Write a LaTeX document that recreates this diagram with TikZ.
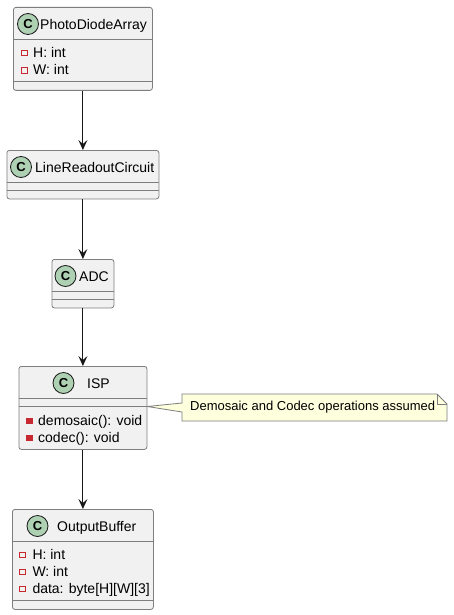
\documentclass[tikz,border=0pt]{standalone}
\usepackage{fontspec}
\setmainfont{Liberation Sans}
\usetikzlibrary{arrows.meta}
\definecolor{classbg}{HTML}{F1F1F1}
\definecolor{lineclr}{HTML}{181818}
\definecolor{boxline}{HTML}{7E7E7E}
\definecolor{circbg}{HTML}{ADD1B2}
\definecolor{privred}{HTML}{C82930}
\definecolor{notebg}{HTML}{FEFFDD}
\begin{document}
\begin{tikzpicture}[x=1pt,y=-1pt,
 classbox/.style={draw=boxline, fill=classbg, line width=0.8pt, rounded corners=2.5pt, rectangle, inner sep=0pt, anchor=north west},
 sepline/.style={draw=boxline, line width=0.8pt},
 circ/.style={circle, draw=lineclr, line width=0.8pt, fill=circbg, minimum size=21pt, inner sep=0pt, font=\fontsize{13}{13}\selectfont\bfseries},
 cname/.style={anchor=base west, inner sep=0pt, font=\fontsize{14}{16}\selectfont},
 member/.style={anchor=base west, inner sep=0pt, font=\fontsize{14}{16}\selectfont},
 fieldmark/.style={rectangle, draw=privred, line width=0.8pt, minimum size=5.5pt, inner sep=0pt},
 methmark/.style={rectangle, fill=privred, draw=privred, line width=0.5pt, minimum size=5.5pt, inner sep=0pt},
 arr/.style={draw=lineclr, line width=1pt, -{Stealth[length=10pt, width=9pt, inset=4pt]}},
 notetext/.style={anchor=west, inner sep=0pt, font=\fontsize{13}{15}\selectfont},
 noteshape/.style={draw=boxline, fill=notebg, line width=0.8pt, line join=miter},
]
\useasboundingbox (0,0) rectangle (454,615);
\fill[white] (0,0) rectangle (454,615);

% PhotoDiodeArray
\node[classbox, minimum width=139pt, minimum height=83pt] (pda) at (13,7) {};
\draw[sepline] (13,39.5) -- (152,39.5);
\draw[sepline] (13,81) -- (152,81);
\node[circ] (pdac) at (28,24) {C};
\node[cname] (pdan) at (40,29.5) {PhotoDiodeArray};
\node[fieldmark] (pdam1) at (24.5,53) {};
\node[member] (pdaf1) at (33,57.5) {H: int};
\node[fieldmark] (pdam2) at (24.5,70.5) {};
\node[member] (pdaf2) at (33,74.5) {W: int};

% LineReadoutCircuit
\node[classbox, minimum width=152pt, minimum height=48.5pt] (lrc) at (6.5,150) {};
\draw[sepline] (6.5,182.5) -- (158.5,182.5);
\draw[sepline] (6.5,190.5) -- (158.5,190.5);
\node[circ] (lrcc) at (21,167) {C};
\node[cname] (lrcn) at (35,172.5) {LineReadoutCircuit};

% ADC
\node[classbox, minimum width=62pt, minimum height=48.5pt] (adc) at (51.5,259) {};
\draw[sepline] (51.5,291.5) -- (113.5,291.5);
\draw[sepline] (51.5,299.5) -- (113.5,299.5);
\node[circ] (adcc) at (65.5,276) {C};
\node[cname] (adcn) at (79,281.5) {ADC};

% ISP
\node[classbox, minimum width=128pt, minimum height=83pt] (isp) at (18.5,366) {};
\draw[sepline] (18.5,398.5) -- (146.5,398.5);
\draw[sepline] (18.5,406.5) -- (146.5,406.5);
\node[circ] (ispc) at (63.5,383) {C};
\node[cname] (ispn) at (87,388.5) {ISP};
\node[methmark] (ispm1) at (29.3,420.5) {};
\node[member] (ispf1) at (38,425) {demosaic(): void};
\node[methmark] (ispm2) at (29.3,437.5) {};
\node[member] (ispf2) at (38,442) {codec(): void};

% OutputBuffer
\node[classbox, minimum width=141pt, minimum height=100pt] (ob) at (12,509) {};
\draw[sepline] (12,541.5) -- (153,541.5);
\draw[sepline] (12,600) -- (153,600);
\node[circ] (obc) at (37.5,526) {C};
\node[cname] (obn) at (57,531.5) {OutputBuffer};
\node[fieldmark] (obm1) at (22.2,555) {};
\node[member] (obf1) at (32.3,559.5) {H: int};
\node[fieldmark] (obm2) at (22.2,572) {};
\node[member] (obf2) at (32.3,576.5) {W: int};
\node[fieldmark] (obm3) at (22.2,589) {};
\node[member] (obf3) at (32.3,593.5) {data: byte[H][W][3]};

% Note with wedge
\coordinate (wedgetip) at (isp.east |- 0,406.5);
\path[noteshape] (182,394) -- (182,403) -- (wedgetip) -- (182,412) -- (182,421) -- (447,421) -- (447,404) -- (437,394) -- cycle;
\draw[sepline] (437,394) -- (437,404) -- (447,404);
\node[notetext] (note) at (190,407.5) {Demosaic and Codec operations assumed};

% Connectors
\draw[arr] (pda.south) -- (lrc.north);
\draw[arr] (lrc.south) -- (adc.north);
\draw[arr] (adc.south) -- (isp.north);
\draw[arr] (isp.south) -- (ob.north);
\end{tikzpicture}
\end{document}
